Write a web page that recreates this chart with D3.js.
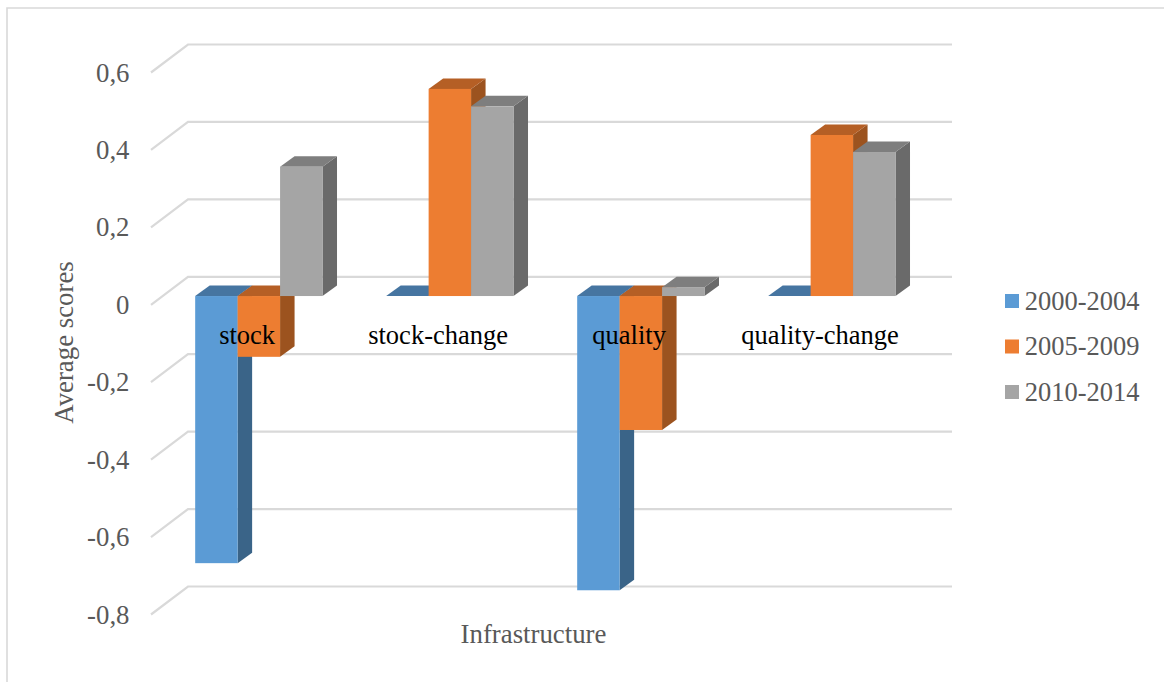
<!DOCTYPE html>
<html>
<head>
<meta charset="utf-8">
<script src="https://cdn.jsdelivr.net/npm/d3@7/dist/d3.min.js"></script>
<style>
  html, body { margin: 0; padding: 0; background: #fff; }
  svg { display: block; }
  text { font-family: "Liberation Serif", serif; }
</style>
</head>
<body>
<svg id="chart" width="1164" height="682"></svg>
<script>
const categories = ["stock", "stock-change", "quality", "quality-change"];
const periods = ["2000-2004", "2005-2009", "2010-2014"];
const values2000 = [-0.69, 0, -0.76, 0];
const values2005 = [-0.157, 0.535, -0.346, 0.416];
const values2010 = [0.334, 0.49, 0.023, 0.372];
const yTicks = [-0.8, -0.6, -0.4, -0.2, 0, 0.2, 0.4, 0.6];
const fronts = ["#5b9bd5", "#ed7d31", "#a5a5a5"];
const tops = ["#4675a1", "#b55f25", "#7e7e7e"];
const sides = ["#3a6488", "#9c531f", "#6a6a6a"];
const seriesValues = [values2000, values2005, values2010];

const svg = d3.select("#chart");
const textGray = "#595959";
const gridGray = "#d9d9d9";
const fontSize = 26.8;
const smallFontSize = 26.5;

// Oblique projection: the floor recedes up and to the right
const wallDx = 37, wallDy = -28;
const barDepthX = 14.5, barDepthY = -10.5;
const barDx = (wallDx - barDepthX) / 2 + 1.1, barDy = (wallDy - barDepthY) / 2;

const x = d3.scaleBand().domain(categories).range([151, 915]);
const y = d3.scaleLinear().domain([-0.8, 0.6]).range([614.5, 72.5]);
// Each bar group occupies two thirds of its category band
const xSeries = d3.scaleBand().domain(periods)
  .range([x.bandwidth() / 6, x.bandwidth() * 5 / 6]);

// Outer frame, open on the right and bottom
svg.append("path")
  .attr("d", "M7,682V8H1164")
  .attr("fill", "none").attr("stroke", gridGray).attr("stroke-width", 1.6);

// Gridlines with their slanted run on the left wall
const grid = svg.append("g");
yTicks.forEach(t => {
  const front = y(t), back = y(t) + wallDy;
  grid.append("path")
    .attr("d", `M151,${front}L${151 + wallDx},${back}H952`)
    .attr("fill", "none").attr("stroke", gridGray).attr("stroke-width", 2.2);
});

// Value labels
const yAxis = svg.append("g")
  .attr("transform", "translate(129.5,0)")
  .call(d3.axisLeft(y).tickValues(yTicks).tickSize(0).tickPadding(0)
    .tickFormat(d => String(d).replace(".", ",")));
yAxis.select(".domain").remove();
yAxis.selectAll("text").attr("fill", textGray).attr("font-size", fontSize)
  .attr("font-family", "Liberation Serif").attr("dy", "0.32em");

// Bars, painted series by series so later ones overlap earlier ones
categories.forEach((cat, ci) => {
  periods.forEach((p, si) => {
    const v = seriesValues[si][ci];
    const x0 = x(cat) + xSeries(p) + barDx;
    const x1 = x0 + xSeries.bandwidth();
    const yZero = y(0) + barDy;
    const yVal = y(v) + barDy;
    const yTop = Math.min(yZero, yVal);
    const yBot = Math.max(yZero, yVal);
    const g = svg.append("g");
    if (yBot > yTop) {
      g.append("path")
        .attr("d", `M${x1},${yTop}L${x1 + barDepthX},${yTop + barDepthY}V${yBot + barDepthY}L${x1},${yBot}Z`)
        .attr("fill", sides[si]);
    }
    g.append("path")
      .attr("d", `M${x0},${yTop}L${x0 + barDepthX},${yTop + barDepthY}H${x1 + barDepthX}L${x1},${yTop}Z`)
      .attr("fill", tops[si]);
    if (yBot > yTop) {
      g.append("rect")
        .attr("x", x0).attr("y", yTop)
        .attr("width", x1 - x0).attr("height", yBot - yTop)
        .attr("fill", fronts[si]);
    }
  });
});

// Category labels sit just under the zero line
const xAxis = svg.append("g")
  .attr("transform", "translate(0.6,344)")
  .call(d3.axisBottom(x).tickSize(0).tickPadding(0));
xAxis.select(".domain").remove();
xAxis.selectAll("text").attr("fill", "#000").attr("font-size", smallFontSize)
  .attr("font-family", "Liberation Serif").attr("dy", 0);

// Axis titles
svg.append("text").attr("x", 533.5).attr("y", 643).attr("text-anchor", "middle")
  .attr("font-size", fontSize).attr("fill", textGray).text("Infrastructure");
svg.append("text")
  .attr("transform", "translate(73,342.5) rotate(-90)")
  .attr("text-anchor", "middle")
  .attr("font-size", fontSize).attr("fill", textGray).text("Average scores");

// Legend
const legendY = d3.scalePoint().domain(periods).range([301, 392]);
periods.forEach((p, i) => {
  svg.append("rect").attr("x", 1005).attr("y", legendY(p) - 7)
    .attr("width", 14).attr("height", 14).attr("fill", fronts[i]);
  svg.append("text").attr("x", 1024.8).attr("y", legendY(p) + 8.5)
    .attr("font-size", smallFontSize).attr("fill", textGray).text(p);
});
</script>
</body>
</html>
